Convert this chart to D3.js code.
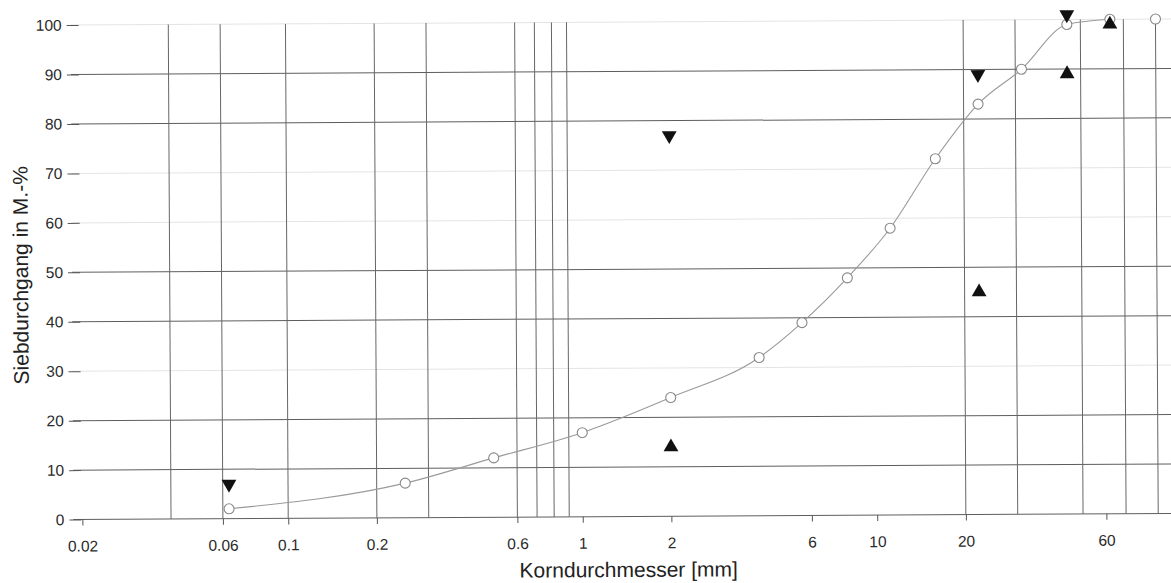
<!DOCTYPE html>
<html>
<head>
<meta charset="utf-8">
<script src="https://cdn.jsdelivr.net/npm/d3@7"></script>
<style>
  body { margin: 0; background: #fff; }
  svg { display: block; font-family: "Liberation Sans", Arial, sans-serif; }
</style>
</head>
<body>
<svg id="chart" width="1171" height="583"></svg>
<script>
// sieve curve (Siebdurchgang)
var sieveSizes = [0.063, 0.25, 0.5, 1, 2, 4, 5.6, 8, 11.2, 16, 22.4, 31.5, 45, 63, 90];
var passing = [2, 7, 12, 17, 24, 32, 39, 48, 58, 72, 83, 90, 99, 100, 100];

// upper limit (down triangles) and lower limit (up triangles)
var upperSizes = [0.063, 2, 22.4, 45];
var upperValues = [7, 77, 89, 101];
var lowerSizes = [2, 22.4, 45, 63];
var lowerValues = [14, 45, 89, 99];

// axes
var xTickValues = [0.02, 0.06, 0.1, 0.2, 0.6, 1, 2, 6, 10, 20, 60];
var xTickLabels = ["0.02", "0.06", "0.1", "0.2", "0.6", "1", "2", "6", "10", "20", "60"];
var yTickValues = [0, 10, 20, 30, 40, 50, 60, 70, 80, 90, 100];
var vGridValues = [0.04, 0.06, 0.1, 0.2, 0.3, 0.6, 0.7, 0.8, 0.9, 20, 30, 50, 70, 90];
var hGridStrong = [0, 10, 20, 40, 50, 80, 90];
var hGridFaint = [30, 60, 70, 100];

var svg = d3.select("#chart");

// the scan is slightly tilted, so the whole chart is rotated a bit
var g = svg.append("g").attr("transform", "rotate(-0.32, 625, 270)");

var x = d3.scaleLog().domain([0.02, 60]).range([81, 1105]);
var y = d3.scaleLinear().domain([0, 100]).range([516.5, 22]);

// horizontal grid
g.selectAll(".hfaint").data(hGridFaint).enter().append("line")
    .attr("x1", 72).attr("x2", 1185)
    .attr("y1", function (d) { return y(d); })
    .attr("y2", function (d) { return y(d); })
    .attr("stroke", "#e4e4e4").attr("stroke-width", 1);

g.selectAll(".hgrid").data(hGridStrong).enter().append("line")
    .attr("x1", 72).attr("x2", 1185)
    .attr("y1", function (d) { return y(d); })
    .attr("y2", function (d) { return y(d); })
    .attr("stroke", "#5e5e5e").attr("stroke-width", 1);

// vertical grid
g.selectAll(".vgrid").data(vGridValues).enter().append("line")
    .attr("x1", function (d) { return x(d); })
    .attr("x2", function (d) { return x(d); })
    .attr("y1", y(100)).attr("y2", y(0))
    .attr("stroke", "#666").attr("stroke-width", 1);

// y axis (ticks only, no domain line)
var yAxis = g.append("g")
    .attr("transform", "translate(80,0)")
    .call(d3.axisLeft(y).tickValues(yTickValues).tickSize(12).tickPadding(5));
yAxis.select(".domain").remove();
yAxis.selectAll("line").attr("stroke", "#555");
yAxis.selectAll("text").attr("font-size", "15.5px").attr("fill", "#2a2a2a")
    .attr("font-family", "'Liberation Sans', Arial, sans-serif");

// x axis
var xAxis = g.append("g")
    .attr("transform", "translate(0," + y(0) + ")")
    .call(d3.axisBottom(x).tickValues(xTickValues)
      .tickFormat(function (d, i) { return xTickLabels[i]; })
      .tickSize(6).tickPadding(15));
xAxis.select(".domain").remove();
xAxis.selectAll("line").attr("stroke", "#555");
xAxis.selectAll("text").attr("font-size", "15.5px").attr("fill", "#2a2a2a")
    .attr("font-family", "'Liberation Sans', Arial, sans-serif");

// axis titles
g.append("text")
    .attr("x", 627).attr("y", 577)
    .attr("text-anchor", "middle")
    .attr("font-size", "21px").attr("fill", "#222")
    .text("Korndurchmesser [mm]");

g.append("text")
    .attr("transform", "translate(28,272) rotate(-90)")
    .attr("text-anchor", "middle")
    .attr("font-size", "21px").attr("fill", "#222")
    .text("Siebdurchgang in M.-%");

// curve
var pts = sieveSizes.map(function (d, i) { return [d, passing[i]]; });
var line = d3.line()
    .x(function (d) { return x(d[0]); })
    .y(function (d) { return y(d[1]); })
    .curve(d3.curveMonotoneX);

g.append("path")
    .datum(pts.slice(0, pts.length - 1))
    .attr("fill", "none")
    .attr("stroke", "#9a9a9a")
    .attr("stroke-width", 1.1)
    .attr("d", line);

g.selectAll(".pt").data(pts).enter().append("circle")
    .attr("cx", function (d) { return x(d[0]); })
    .attr("cy", function (d) { return y(d[1]); })
    .attr("r", 5)
    .attr("fill", "#fff")
    .attr("stroke", "#888")
    .attr("stroke-width", 1.1);

// limit markers
var tri = d3.symbol().type(d3.symbolTriangle).size(95);

g.selectAll(".up").data(lowerSizes).enter().append("path")
    .attr("d", tri)
    .attr("transform", function (d, i) {
      return "translate(" + x(d) + "," + y(lowerValues[i]) + ")";
    })
    .attr("fill", "#111");

g.selectAll(".down").data(upperSizes).enter().append("path")
    .attr("d", tri)
    .attr("transform", function (d, i) {
      return "translate(" + x(d) + "," + y(upperValues[i]) + ") rotate(180)";
    })
    .attr("fill", "#111");
</script>
</body>
</html>
